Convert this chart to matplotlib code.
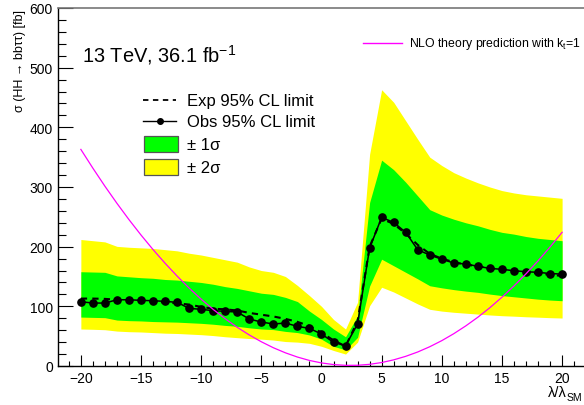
import matplotlib
matplotlib.use("Agg")
import matplotlib.pyplot as plt
from matplotlib.lines import Line2D
from matplotlib.patches import Rectangle
import numpy as np

plt.rcParams['font.family'] = ['Liberation Sans', 'DejaVu Sans']
plt.rcParams['mathtext.fontset'] = 'custom'
plt.rcParams['mathtext.rm'] = 'Liberation Sans'
plt.rcParams['mathtext.it'] = 'Liberation Sans:italic'
plt.rcParams['mathtext.bf'] = 'Liberation Sans:bold'

# ---- data ----
lam = list(range(-20, 21))

obs = [107.7, 105.5, 105.5, 111, 111, 110, 109.4, 108.3, 106.7, 96.6,
       95, 92.7, 91.6, 90.4, 78.7, 73.7, 70.4, 72, 66.5, 63,
       53.6, 39.7, 34, 70.4, 197.7, 249, 240.7, 224, 194.8, 186,
       179, 172.5, 171, 167, 163.6, 162, 159.7, 158, 157, 155, 154]

exp = [113, 113, 112.5, 111, 110, 108.5, 107.5, 106.5, 105, 103,
       99, 96, 95, 93, 89, 86, 83, 79, 74, 67,
       56, 43, 33, 75, 200, 247, 238, 222, 203, 188,
       180, 174, 170, 167, 164, 161, 159, 157, 155, 153, 151]

yel_hi = [212, 210, 208, 200.5, 199, 198, 197, 195, 193, 189,
          186, 182, 178, 174, 166, 160, 157, 150, 135, 118,
          100, 78, 62, 107, 355, 463, 442, 411, 380, 350,
          336, 324, 315, 307, 300, 294, 290, 287, 285, 283, 281]
grn_hi = [158, 157.5, 157, 151, 149.5, 148, 147, 145, 144, 142,
          140, 137, 133, 130, 126, 122, 120, 115, 108, 92,
          78, 62, 49, 84, 274, 345, 329, 308, 285, 262,
          253, 246, 240, 235, 229, 224, 221, 217, 214, 212, 210]
grn_lo = [82, 81.5, 81, 77, 76, 75.5, 74.5, 74, 73.5, 72.5,
          71.5, 70, 68, 66.5, 64, 62, 61, 58, 56, 52,
          45, 33, 27, 48, 134, 179, 168, 157, 146, 134.5,
          131, 128, 125.5, 123.4, 120.5, 118, 116, 114, 112, 110.5, 109.4]
yel_lo = [62, 61.5, 60.8, 58.5, 57.5, 57, 56, 55, 54.5, 53.5,
          52.5, 51, 49, 47.5, 46, 45, 43.5, 41, 40, 38,
          33, 26, 20, 40, 101, 132, 124, 114, 104, 95,
          92, 90, 88.5, 87, 85.5, 84.3, 83.5, 82.5, 81.8, 81, 80.4]

theory = [363.0, 331.5, 301.3, 272.6, 245.3, 219.5, 195.1, 172.2, 150.7, 130.6,
          112.0, 94.8, 79.1, 64.8, 52.0, 40.6, 30.6, 22.1, 15.0, 9.3,
          5.15, 2.4, 1.1, 1.2, 2.8, 5.8, 10.3, 16.2, 23.5, 32.3,
          42.5, 54.2, 67.3, 81.8, 97.8, 115.3, 134.2, 154.5, 176.2, 199.5, 224.1]

W, H = 584, 406
fig = plt.figure(figsize=(W / 100, H / 100), dpi=100)

def fx(px):
    return px / W

def fy(py):
    return 1 - py / H

ax = fig.add_axes([fx(58), fy(367), 539 / W, 358 / H])
ax.set_xlim(-21.9, 22.9)
ax.set_ylim(0, 600)

ax.fill_between(lam, yel_lo, yel_hi, color='#ffff00', lw=0, zorder=1)
ax.fill_between(lam, grn_lo, grn_hi, color='#00ff00', lw=0, zorder=2)
ax.plot(lam, exp, color='black', lw=1.5, ls=(0, (3, 2.5)), zorder=3)
ax.plot(lam, obs, color='black', lw=1.1, marker='o', ms=5.2, zorder=4)
ax.plot(lam, theory, color='#ff00ff', lw=0.9, zorder=5)

ax.set_xticks(range(-20, 21, 5))
ax.set_xticks(range(-21, 23), minor=True)
ax.set_yticks(range(0, 601, 100))
ax.set_yticks(range(0, 601, 20), minor=True)
ax.set_xticklabels(['\u221220', '\u221215', '\u221210', '\u22125', '0', '5', '10', '15', '20'])
ax.tick_params(axis='x', which='major', direction='in', length=7.7, width=0.8, labelsize=10, pad=3.4)
ax.tick_params(axis='x', which='minor', direction='in', length=3.9, width=0.8)
ax.tick_params(axis='y', which='major', direction='in', length=10.8, width=0.8, labelsize=10, pad=3.6)
ax.tick_params(axis='y', which='minor', direction='in', length=5.4, width=0.8)
for s in ['left', 'bottom']:
    ax.spines[s].set_linewidth(1.0)
ax.spines['top'].set_color('#777777')
ax.spines['top'].set_linewidth(1.2)
ax.spines['right'].set_visible(False)

# axis labels
fig.text(fx(20), fy(10), '\u03c3 (HH \u2192 bb\u03c4\u03c4) [fb]', rotation=90,
         ha='center', va='top', fontsize=9)
fig.text(fx(567), fy(396.7), '\u03bb/\u03bb', ha='right', va='baseline', fontsize=10.5)
fig.text(fx(567), fy(401), 'SM', ha='left', va='baseline', fontsize=7.5)

# energy / lumi label
fig.text(fx(81.7), fy(62.7), r'13 TeV, 36.1 fb$^{\mathrm{-1}}$', ha='left', va='baseline', fontsize=14.4)

# legend (manual)
lx0, lx1 = 143, 176
fig.add_artist(Line2D([fx(lx0), fx(lx1)], [fy(101), fy(101)], color='black', lw=1.3, ls=(0, (3, 2.5))))
fig.text(fx(186.7), fy(106), 'Exp 95% CL limit', fontsize=12, ha='left', va='baseline')
fig.add_artist(Line2D([fx(lx0), fx(lx1)], [fy(122), fy(122)], color='black', lw=1.0))
fig.add_artist(Line2D([fx((lx0 + lx1) / 2)], [fy(122)], color='black', marker='o', ms=4, lw=0))
fig.text(fx(186.7), fy(126.7), 'Obs 95% CL limit', fontsize=12, ha='left', va='baseline')
fig.add_artist(Rectangle((fx(143.5), fy(153.3)), fx(178) - fx(143.5), fy(137.3) - fy(153.3),
                         facecolor='#00ff00', edgecolor='#555555', lw=0.9))
fig.text(fx(186.7), fy(150), '\u00b1 1\u03c3', fontsize=12, ha='left', va='baseline')
fig.add_artist(Rectangle((fx(143.5), fy(175.7)), fx(178) - fx(143.5), fy(160) - fy(175.7),
                         facecolor='#ffff00', edgecolor='#555555', lw=0.9))
fig.text(fx(186.7), fy(173), '\u00b1 2\u03c3', fontsize=12, ha='left', va='baseline')

# theory legend
fig.add_artist(Line2D([fx(363), fx(402)], [fy(44.3), fy(44.3)], color='#ff00ff', lw=1.0))
fig.text(fx(409), fy(46.5), r'NLO theory prediction with k$_{\mathrm{t}}$=1', fontsize=8.8, ha='left', va='baseline')

fig.savefig('out.png', dpi=100)
